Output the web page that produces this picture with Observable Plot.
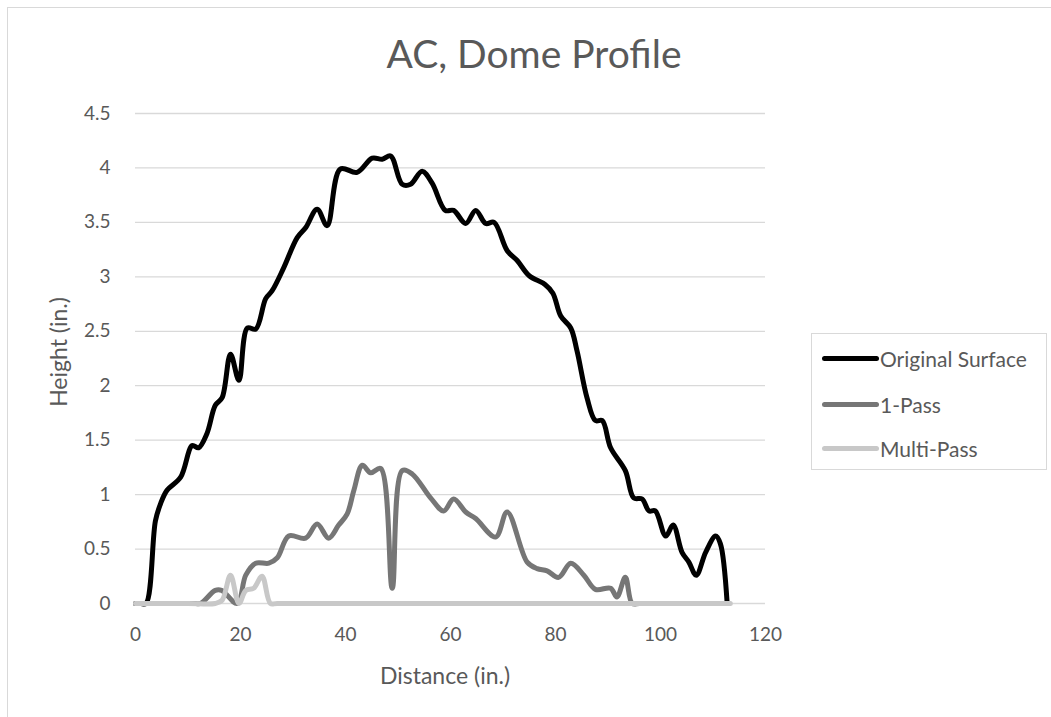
<!DOCTYPE html>
<html>
<head>
<meta charset="utf-8">
<script src="https://cdn.jsdelivr.net/npm/d3@7"></script>
<script src="https://cdn.jsdelivr.net/npm/@observablehq/plot@0.6"></script>
<style>
  html, body { margin: 0; padding: 0; background: #fff; }
  #wrap { position: relative; width: 1051px; height: 717px; overflow: hidden; font-family: Lato, "Open Sans", sans-serif; color: #595959; }
  #frame { position: absolute; left: 7px; top: 7px; width: 1100px; height: 800px; border: 1px solid #d9d9d9; box-sizing: border-box; }
  #chart { position: absolute; left: 0; top: 0; }
  .title { position: absolute; left: 334px; width: 400px; text-align: center; top: 33px; font-size: 39px; white-space: nowrap; line-height: 40px; }
  .xlab { position: absolute; left: 295px; width: 300px; text-align: center; top: 661px; font-size: 23px; white-space: nowrap; line-height: 28px; }
  .ylab { position: absolute; left: -92px; width: 300px; text-align: center; top: 338px; height: 28px; font-size: 23px; white-space: nowrap; line-height: 28px; transform: rotate(-90deg); transform-origin: 150px 14px; }
  #legend { position: absolute; left: 811px; top: 333px; width: 236px; height: 137px; border: 1px solid #d9d9d9; box-sizing: border-box; }
  .li { position: absolute; left: 10px; height: 24px; display: flex; align-items: center; font-size: 21px; white-space: nowrap; }
  .sw { width: 57px; height: 5px; border-radius: 3px; margin-right: 1px; }
</style>
</head>
<body>
<div id="wrap">
  <div id="frame"></div>
  <div id="chart"></div>
  <div class="title">AC, Dome Profile</div>
  <div class="xlab">Distance (in.)</div>
  <div class="ylab">Height (in.)</div>
  <div id="legend"></div>
</div>
<script>
// ---- data ----
const seriesNames = ["Original Surface", "1-Pass", "Multi-Pass"];
const seriesColors = ["#000000", "#767676", "#c8c8c8"];

const originalX = [0, 1, 2, 3.8, 4.8, 6, 8.6, 10.8, 12, 13.6, 15.2, 16.5, 18.1, 19.7, 21.3, 22.9, 24.8, 26, 28.2, 30.8, 32.4, 34.6, 36.5, 39, 42.2, 45.1, 47, 48.6, 50.8, 52.4, 54.6, 56.5, 59, 60.6, 62.9, 64.8, 66.7, 68.3, 70.8, 72.7, 75, 78, 79.5, 81, 82.9, 84.1, 86, 87.6, 88.9, 90.5, 93.3, 94.9, 96.5, 97.8, 99, 101, 102.4, 104.1, 105.4, 106.8, 108.6, 110.5, 111.4, 112.7];
const originalY = [0, 0, 0, 0.76, 0.92, 1.04, 1.16, 1.45, 1.43, 1.56, 1.82, 1.89, 2.29, 2.05, 2.53, 2.52, 2.80, 2.87, 3.08, 3.36, 3.45, 3.62, 3.47, 3.99, 3.96, 4.09, 4.08, 4.11, 3.85, 3.85, 3.97, 3.86, 3.61, 3.61, 3.49, 3.61, 3.49, 3.50, 3.24, 3.15, 3.01, 2.93, 2.85, 2.64, 2.53, 2.32, 1.89, 1.68, 1.68, 1.43, 1.22, 0.97, 0.96, 0.85, 0.85, 0.62, 0.72, 0.47, 0.38, 0.26, 0.47, 0.62, 0.55, 0];

const onePassX = [0, 5, 10, 11.5, 12.4, 15.2, 16.4, 19.4, 21, 22.9, 25.4, 27, 29.2, 32.4, 34.6, 36.8, 38.7, 40.3, 41.6, 43.2, 44.8, 46.7, 48.9, 50.8, 52.7, 56.2, 58.7, 60.6, 62.9, 64.8, 68.6, 70.8, 74.6, 76.5, 78.4, 80.6, 82.9, 85.4, 87.6, 90.5, 91.7, 93.3, 94.6, 96, 100, 113];
const onePassY = [0, 0, 0, 0, 0, 0.12, 0.12, 0, 0.26, 0.37, 0.37, 0.42, 0.62, 0.60, 0.73, 0.60, 0.72, 0.82, 1.04, 1.27, 1.20, 1.24, 0.14, 1.22, 1.19, 0.97, 0.85, 0.96, 0.84, 0.78, 0.61, 0.84, 0.38, 0.32, 0.30, 0.24, 0.37, 0.26, 0.13, 0.14, 0.06, 0.24, 0, 0, 0, 0];

const multiPassX = [0, 10, 15.2, 16.5, 18.1, 19.7, 21, 22.5, 24.1, 25.7, 27, 113.3];
const multiPassY = [0, 0, 0, 0.03, 0.26, 0, 0.12, 0.14, 0.25, 0, 0, 0];

const xTicks = [0, 20, 40, 60, 80, 100, 120];
const yTicks = [0, 0.5, 1, 1.5, 2, 2.5, 3, 3.5, 4, 4.5];

// ---- build rows ----
const seriesX = [originalX, onePassX, multiPassX];
const seriesY = [originalY, onePassY, multiPassY];
const rows = [];
seriesNames.forEach((name, i) => {
  seriesX[i].forEach((x, j) => rows.push({series: name, x, y: seriesY[i][j]}));
});

const chart = Plot.plot({
  width: 1051,
  height: 717,
  marginLeft: 135,
  marginRight: 286,
  marginTop: 113,
  marginBottom: 114,
  style: {fontFamily: "Lato, 'Open Sans', sans-serif", fontSize: "19px", color: "#595959", background: "transparent"},
  x: {domain: [0, 120]},
  y: {domain: [0, 4.5]},
  color: {domain: seriesNames, range: seriesColors},
  marks: [
    Plot.ruleY(yTicks, {stroke: "#d9d9d9", strokeWidth: 1.3}),
    Plot.axisX(xTicks, {tickSize: 0, tickPadding: 24, tickFormat: d => String(d), label: null, fontSize: 19}),
    Plot.axisY(yTicks, {tickSize: 0, tickPadding: 25, tickFormat: d => String(d), label: null, fontSize: 19}),
    ...seriesNames.map(name => Plot.line(rows.filter(r => r.series === name), {
      x: "x", y: "y", stroke: "series", strokeWidth: 5, curve: "catmull-rom",
      strokeLinejoin: "round", strokeLinecap: "round"
    }))
  ]
});
document.getElementById("chart").appendChild(chart);

// ---- legend ----
const legend = document.getElementById("legend");
const legendTops = [12, 58, 102];
seriesNames.forEach((name, i) => {
  const item = document.createElement("div");
  item.className = "li";
  item.style.top = legendTops[i] + "px";
  const sw = document.createElement("div");
  sw.className = "sw";
  sw.style.background = seriesColors[i];
  item.appendChild(sw);
  const t = document.createElement("span");
  t.textContent = name;
  item.appendChild(t);
  legend.appendChild(item);
});
</script>
</body>
</html>
